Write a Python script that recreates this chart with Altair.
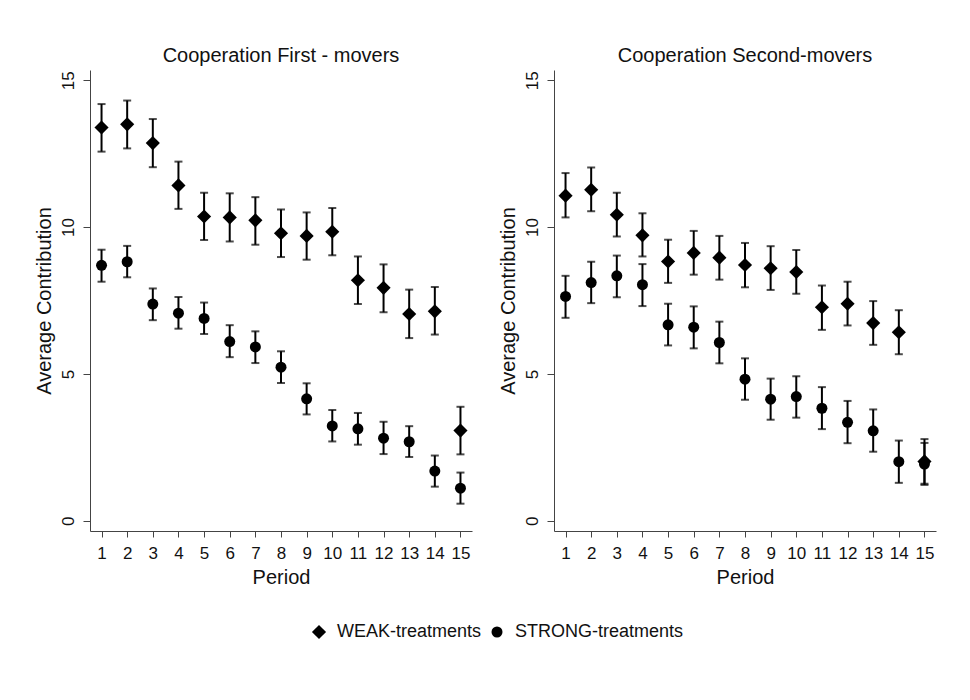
import altair as alt
import pandas as pd

periods = list(range(1, 16))
series_names = ["WEAK-treatments", "STRONG-treatments"]
panel_titles = ["Cooperation First - movers", "Cooperation Second-movers"]

# Panel 1: First-movers
first_weak_mean = [13.39, 13.50, 12.86, 11.42, 10.36, 10.33, 10.23, 9.79, 9.70, 9.84, 8.19, 7.93, 7.04, 7.13, 3.07]
first_weak_hi   = [14.19, 14.31, 13.68, 12.23, 11.17, 11.15, 11.02, 10.60, 10.50, 10.65, 9.00, 8.73, 7.87, 7.96, 3.88]
first_weak_lo   = [12.57, 12.68, 12.04, 10.62, 9.56, 9.51, 9.40, 8.98, 8.89, 9.04, 7.38, 7.10, 6.22, 6.34, 2.26]
first_strong_mean = [8.70, 8.82, 7.38, 7.07, 6.89, 6.10, 5.92, 5.23, 4.15, 3.23, 3.13, 2.81, 2.69, 1.69, 1.11]
first_strong_hi   = [9.23, 9.36, 7.91, 7.62, 7.43, 6.66, 6.45, 5.77, 4.68, 3.77, 3.67, 3.37, 3.22, 2.22, 1.64]
first_strong_lo   = [8.14, 8.29, 6.83, 6.54, 6.36, 5.57, 5.37, 4.69, 3.62, 2.70, 2.59, 2.27, 2.17, 1.16, 0.58]

# Panel 2: Second-movers
second_weak_mean = [11.07, 11.27, 10.42, 9.72, 8.83, 9.12, 8.96, 8.71, 8.60, 8.47, 7.27, 7.39, 6.73, 6.42, 2.02]
second_weak_hi   = [11.84, 12.03, 11.17, 10.47, 9.57, 9.87, 9.70, 9.46, 9.35, 9.22, 8.01, 8.14, 7.48, 7.17, 2.78]
second_weak_lo   = [10.33, 10.54, 9.68, 9.00, 8.10, 8.38, 8.21, 7.95, 7.86, 7.73, 6.50, 6.65, 5.99, 5.67, 1.26]
second_strong_mean = [7.64, 8.11, 8.34, 8.04, 6.67, 6.59, 6.07, 4.82, 4.14, 4.23, 3.83, 3.35, 3.06, 2.01, 1.93]
second_strong_hi   = [8.34, 8.82, 9.03, 8.74, 7.39, 7.30, 6.78, 5.53, 4.84, 4.92, 4.55, 4.08, 3.79, 2.73, 2.65]
second_strong_lo   = [6.91, 7.41, 7.61, 7.31, 5.97, 5.87, 5.36, 4.12, 3.44, 3.51, 3.12, 2.64, 2.35, 1.29, 1.22]

rows = []
panels = [
    (panel_titles[0], [(series_names[0], first_weak_mean, first_weak_lo, first_weak_hi),
                       (series_names[1], first_strong_mean, first_strong_lo, first_strong_hi)]),
    (panel_titles[1], [(series_names[0], second_weak_mean, second_weak_lo, second_weak_hi),
                       (series_names[1], second_strong_mean, second_strong_lo, second_strong_hi)]),
]
for ptitle, sers in panels:
    for name, m, lo, hi in sers:
        for p, a, b, c in zip(periods, m, lo, hi):
            rows.append({"panel": ptitle, "series": name, "period": p, "mean": a, "lo": b, "hi": c})
df = pd.DataFrame(rows)

FONT = "Liberation Sans"
INK = "#111111"

x_scale = alt.Scale(domain=[0.55, 15.45], nice=False, zero=False)
y_scale = alt.Scale(domain=[-0.35, 15.35], nice=False, zero=False)

x_axis = alt.Axis(values=periods, title="Period", grid=False, format="d",
                  tickSize=6, labelPadding=8, titlePadding=6, labelFontSize=17, titleFontSize=20,
                  labelFont=FONT, titleFont=FONT, labelColor=INK, titleColor=INK,
                  domainColor="#444444", tickColor="#444444", titleFontWeight="normal",
                  labelFlush=False, labelOverlap=False)
y_axis = alt.Axis(values=[0, 5, 10, 15], title="Average Contribution", grid=False,
                  tickSize=7, labelPadding=10, titlePadding=5, labelFontSize=17, titleFontSize=20,
                  labelAngle=270, labelAlign="center", labelBaseline="alphabetic",
                  labelFont=FONT, titleFont=FONT, labelColor=INK, titleColor=INK,
                  domainColor="#444444", tickColor="#444444", titleFontWeight="normal",
                  labelFlush=False, labelOverlap=False)

shape_scale = alt.Scale(domain=series_names, range=["diamond", "circle"])
size_scale = alt.Scale(domain=series_names, range=[200, 121])


def panel(title, show_legend):
    base = alt.Chart(df).transform_filter(alt.datum.panel == title).encode(
        x=alt.X("period:Q", scale=x_scale, axis=x_axis),
    )
    rule = base.mark_rule(color="black", strokeWidth=2).encode(
        y=alt.Y("lo:Q", scale=y_scale, axis=y_axis),
        y2="hi:Q",
    )
    cap_hi = base.mark_tick(color="black", thickness=2, size=8, orient="horizontal").encode(
        y=alt.Y("hi:Q", scale=y_scale, axis=y_axis),
    )
    cap_lo = base.mark_tick(color="black", thickness=2, size=8, orient="horizontal").encode(
        y=alt.Y("lo:Q", scale=y_scale, axis=y_axis),
    )
    if show_legend:
        leg = alt.Legend(title=None, orient="none", direction="horizontal",
                         legendX=220, legendY=553, labelFontSize=18, labelFont=FONT,
                         labelColor=INK, labelLimit=400, symbolFillColor="black",
                         symbolStrokeWidth=0, labelOffset=9, columnPadding=6)
    else:
        leg = None
    pts = base.mark_point(filled=True, color="black", opacity=1).encode(
        y=alt.Y("mean:Q", scale=y_scale, axis=y_axis),
        shape=alt.Shape("series:N", scale=shape_scale, legend=leg),
        size=alt.Size("series:N", scale=size_scale, legend=leg),
    )
    return alt.layer(rule, cap_hi, cap_lo, pts).properties(
        width=382, height=461,
        title=alt.TitleParams(title, fontSize=20, font=FONT, color=INK, fontWeight="normal",
                              anchor="middle", offset=4),
    )


chart = alt.hconcat(panel(panel_titles[0], True), panel(panel_titles[1], False), spacing=26).properties(
    padding={"left": 34, "top": 46, "right": 10, "bottom": 10},
    background="white",
).configure_view(stroke=None)

chart.save("out.html", embed_options={"renderer": "svg", "actions": False})
